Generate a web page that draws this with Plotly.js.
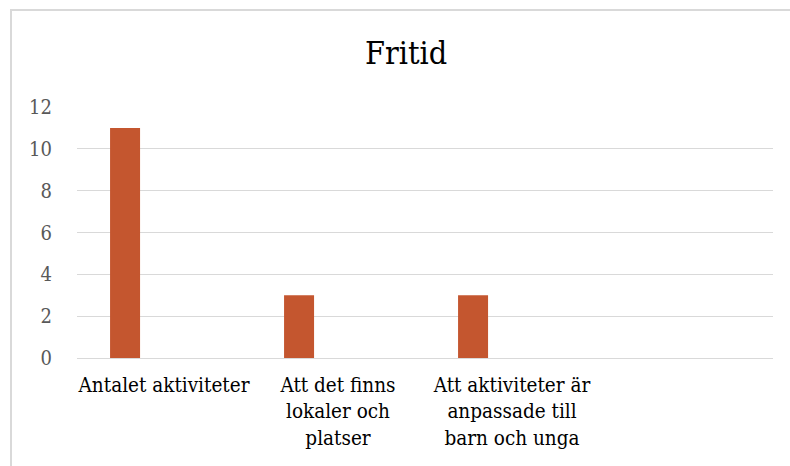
<!DOCTYPE html>
<html>
<head>
<meta charset="utf-8">
<script src="https://cdn.plot.ly/plotly-3.0.1.min.js"></script>
<style>
  html, body { margin: 0; padding: 0; background: #ffffff; }
  #wrap { position: relative; width: 790px; height: 466px; overflow: hidden; }
  #chart { width: 790px; height: 466px; }
  #frame { position: absolute; left: 10px; top: 9px; width: 900px; height: 600px;
           border-left: 2px solid #d9d9d9; border-top: 2px solid #d9d9d9; pointer-events: none; }
</style>
</head>
<body>
<div id="wrap">
  <div id="chart"></div>
  <div id="frame"></div>
</div>
<script>
const categories = [
  "Antalet aktiviteter",
  "Att det finns<br>lokaler och<br>platser",
  "Att aktiviteter är<br>anpassade till<br>barn och unga"
];
const values = [11, 3, 3];
const yTicks = [0, 2, 4, 6, 8, 10, 12];
const chartTitle = "Fritid";

const serifFont = "DejaVu Serif Condensed";

Plotly.newPlot("chart", [{
  type: "bar",
  x: categories,
  y: values,
  width: 0.1724,
  offset: -0.31,
  marker: { color: "#c4562f", line: { width: 0 } },
  hoverinfo: "skip"
}], {
  width: 790,
  height: 466,
  margin: { l: 77, r: 17, t: 107, b: 108 },
  paper_bgcolor: "#ffffff",
  plot_bgcolor: "#ffffff",
  showlegend: false,
  title: {
    text: chartTitle,
    font: { family: serifFont, size: 32, color: "#000000" },
    x: 0.514, xanchor: "center", xref: "container",
    y: 0.886, yanchor: "middle"
  },
  xaxis: {
    type: "category",
    range: [-0.5, 3.5],
    showgrid: false,
    zeroline: false,
    showline: false,
    ticks: "",
    tickfont: { family: serifFont, size: 20.5, color: "#000000" },
    ticklabelstandoff: 12,
    fixedrange: true
  },
  yaxis: {
    range: [0, 12],
    tickvals: yTicks,
    ticktext: yTicks.map(String),
    showgrid: true,
    gridcolor: "#d9d9d9",
    gridwidth: 1,
    zeroline: true,
    zerolinecolor: "#d9d9d9",
    zerolinewidth: 1,
    showline: false,
    ticks: "",
    tickfont: { family: serifFont, size: 20, color: "#595959" },
    ticklabelstandoff: 24,
    fixedrange: true
  }
}, { displayModeBar: false, staticPlot: true });
</script>
</body>
</html>
